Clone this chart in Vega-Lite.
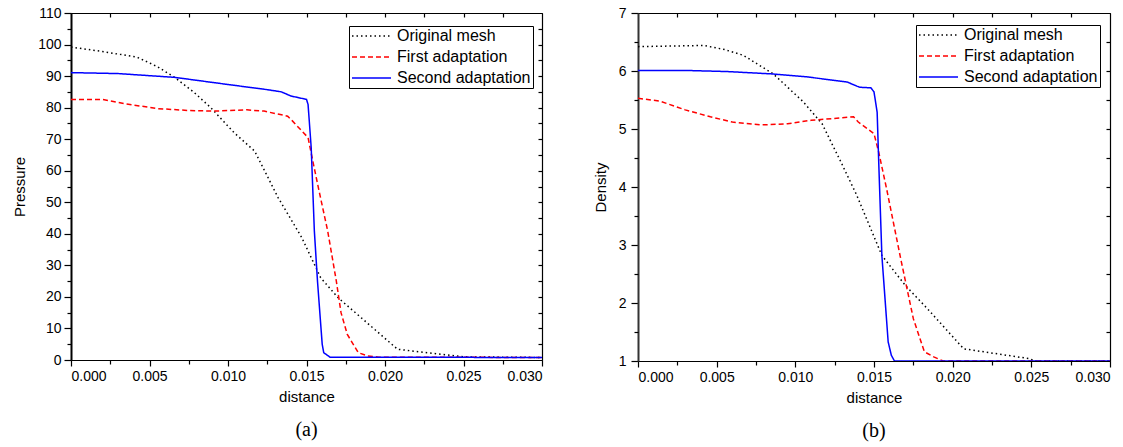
{
  "$schema": "https://vega.github.io/schema/vega-lite/v6.json",
  "padding": {"left": 12, "top": 5, "right": 5, "bottom": 5},
  "spacing": 46,
  "datasets": {
    "pressure": [
      {"series": "Original mesh", "distance": 0, "value": 99.2},
      {"series": "Original mesh", "distance": 0.002, "value": 97.8},
      {"series": "Original mesh", "distance": 0.0042, "value": 96},
      {"series": "Original mesh", "distance": 0.0055, "value": 93},
      {"series": "Original mesh", "distance": 0.0066, "value": 89.6},
      {"series": "Original mesh", "distance": 0.0078, "value": 85},
      {"series": "Original mesh", "distance": 0.0089, "value": 80},
      {"series": "Original mesh", "distance": 0.0104, "value": 72},
      {"series": "Original mesh", "distance": 0.0117, "value": 66.2},
      {"series": "Original mesh", "distance": 0.0132, "value": 51.4},
      {"series": "Original mesh", "distance": 0.0147, "value": 38.8},
      {"series": "Original mesh", "distance": 0.0159, "value": 26.1},
      {"series": "Original mesh", "distance": 0.017, "value": 19.8},
      {"series": "Original mesh", "distance": 0.0208, "value": 3.4},
      {"series": "Original mesh", "distance": 0.025, "value": 1.0},
      {"series": "Original mesh", "distance": 0.03, "value": 0.8},
      {"series": "First adaptation", "distance": 0, "value": 82.6},
      {"series": "First adaptation", "distance": 0.002, "value": 82.6},
      {"series": "First adaptation", "distance": 0.0035, "value": 81.2},
      {"series": "First adaptation", "distance": 0.0055, "value": 79.7},
      {"series": "First adaptation", "distance": 0.0075, "value": 79.1},
      {"series": "First adaptation", "distance": 0.0091, "value": 78.9},
      {"series": "First adaptation", "distance": 0.0112, "value": 79.3},
      {"series": "First adaptation", "distance": 0.0123, "value": 78.9},
      {"series": "First adaptation", "distance": 0.0138, "value": 77.3},
      {"series": "First adaptation", "distance": 0.0141, "value": 75.8},
      {"series": "First adaptation", "distance": 0.0151, "value": 70.5},
      {"series": "First adaptation", "distance": 0.0154, "value": 63.1},
      {"series": "First adaptation", "distance": 0.0158, "value": 53.6},
      {"series": "First adaptation", "distance": 0.01635, "value": 40.9},
      {"series": "First adaptation", "distance": 0.0169, "value": 25},
      {"series": "First adaptation", "distance": 0.0172, "value": 15},
      {"series": "First adaptation", "distance": 0.0176, "value": 8.1},
      {"series": "First adaptation", "distance": 0.0183, "value": 2.3},
      {"series": "First adaptation", "distance": 0.0189, "value": 1.3},
      {"series": "First adaptation", "distance": 0.0196, "value": 0.9},
      {"series": "First adaptation", "distance": 0.03, "value": 0.8},
      {"series": "Second adaptation", "distance": 0, "value": 91.1},
      {"series": "Second adaptation", "distance": 0.003, "value": 90.8},
      {"series": "Second adaptation", "distance": 0.0066, "value": 89.6},
      {"series": "Second adaptation", "distance": 0.0102, "value": 87.2},
      {"series": "Second adaptation", "distance": 0.0125, "value": 85.7},
      {"series": "Second adaptation", "distance": 0.0134, "value": 85.0},
      {"series": "Second adaptation", "distance": 0.014, "value": 83.7},
      {"series": "Second adaptation", "distance": 0.015, "value": 82.6},
      {"series": "Second adaptation", "distance": 0.0151, "value": 81},
      {"series": "Second adaptation", "distance": 0.0153, "value": 67.3},
      {"series": "Second adaptation", "distance": 0.0155, "value": 40.9},
      {"series": "Second adaptation", "distance": 0.0157, "value": 25},
      {"series": "Second adaptation", "distance": 0.016, "value": 5},
      {"series": "Second adaptation", "distance": 0.0161, "value": 2.3},
      {"series": "Second adaptation", "distance": 0.0165, "value": 0.9},
      {"series": "Second adaptation", "distance": 0.03, "value": 0.8}
    ],
    "density": [
      {"series": "Original mesh", "distance": 0, "value": 6.42},
      {"series": "Original mesh", "distance": 0.002, "value": 6.43},
      {"series": "Original mesh", "distance": 0.0042, "value": 6.44},
      {"series": "Original mesh", "distance": 0.0055, "value": 6.37},
      {"series": "Original mesh", "distance": 0.0067, "value": 6.27},
      {"series": "Original mesh", "distance": 0.0086, "value": 5.95},
      {"series": "Original mesh", "distance": 0.0105, "value": 5.47},
      {"series": "Original mesh", "distance": 0.0117, "value": 5.09},
      {"series": "Original mesh", "distance": 0.0129, "value": 4.43},
      {"series": "Original mesh", "distance": 0.0139, "value": 3.86},
      {"series": "Original mesh", "distance": 0.0155, "value": 2.82},
      {"series": "Original mesh", "distance": 0.017, "value": 2.3},
      {"series": "Original mesh", "distance": 0.0184, "value": 1.9},
      {"series": "Original mesh", "distance": 0.0207, "value": 1.21},
      {"series": "Original mesh", "distance": 0.0249, "value": 1.04},
      {"series": "Original mesh", "distance": 0.0252, "value": 1.0},
      {"series": "Original mesh", "distance": 0.03, "value": 1.0},
      {"series": "First adaptation", "distance": 0, "value": 5.53},
      {"series": "First adaptation", "distance": 0.0014, "value": 5.48},
      {"series": "First adaptation", "distance": 0.003, "value": 5.33},
      {"series": "First adaptation", "distance": 0.0046, "value": 5.21},
      {"series": "First adaptation", "distance": 0.006, "value": 5.12},
      {"series": "First adaptation", "distance": 0.0078, "value": 5.07},
      {"series": "First adaptation", "distance": 0.0095, "value": 5.09},
      {"series": "First adaptation", "distance": 0.011, "value": 5.15},
      {"series": "First adaptation", "distance": 0.0137, "value": 5.21},
      {"series": "First adaptation", "distance": 0.014, "value": 5.12},
      {"series": "First adaptation", "distance": 0.015, "value": 4.92},
      {"series": "First adaptation", "distance": 0.0153, "value": 4.6},
      {"series": "First adaptation", "distance": 0.0158, "value": 3.97},
      {"series": "First adaptation", "distance": 0.0167, "value": 2.76},
      {"series": "First adaptation", "distance": 0.0175, "value": 1.73},
      {"series": "First adaptation", "distance": 0.0182, "value": 1.16},
      {"series": "First adaptation", "distance": 0.0188, "value": 1.07},
      {"series": "First adaptation", "distance": 0.0194, "value": 1.0},
      {"series": "First adaptation", "distance": 0.03, "value": 1.0},
      {"series": "Second adaptation", "distance": 0, "value": 6.01},
      {"series": "Second adaptation", "distance": 0.003, "value": 6.01},
      {"series": "Second adaptation", "distance": 0.0057, "value": 5.99},
      {"series": "Second adaptation", "distance": 0.0085, "value": 5.95},
      {"series": "Second adaptation", "distance": 0.0107, "value": 5.9},
      {"series": "Second adaptation", "distance": 0.0133, "value": 5.81},
      {"series": "Second adaptation", "distance": 0.0139, "value": 5.74},
      {"series": "Second adaptation", "distance": 0.0141, "value": 5.72},
      {"series": "Second adaptation", "distance": 0.0148, "value": 5.71},
      {"series": "Second adaptation", "distance": 0.015, "value": 5.64},
      {"series": "Second adaptation", "distance": 0.0152, "value": 5.29},
      {"series": "Second adaptation", "distance": 0.0153, "value": 4.43},
      {"series": "Second adaptation", "distance": 0.0155, "value": 2.82},
      {"series": "Second adaptation", "distance": 0.0159, "value": 1.33},
      {"series": "Second adaptation", "distance": 0.0161, "value": 1.1},
      {"series": "Second adaptation", "distance": 0.0163, "value": 1.0},
      {"series": "Second adaptation", "distance": 0.03, "value": 1.0}
    ]
  },
  "hconcat": [
    {
      "width": 471,
      "height": 347,
      "data": {"name": "pressure"},
      "title": {"text": "(a)", "orient": "bottom", "font": "Liberation Serif", "fontSize": 20, "fontWeight": "normal", "color": "black", "offset": 16},
      "layer": [
        {
          "mark": {"type": "line", "strokeWidth": 1.5, "clip": true},
          "encoding": {
            "x": {"field": "distance", "type": "quantitative", "scale": {"domain": [0, 0.03], "nice": false, "zero": false},
                  "axis": {"orient": "bottom", "values": [0, 0.005, 0.01, 0.015, 0.02, 0.025, 0.03], "format": ".3f", "title": "distance", "tickSize": 6, "labelPadding": 3, "titlePadding": 6}},
            "y": {"field": "value", "type": "quantitative", "scale": {"domain": [0, 110], "nice": false},
                  "axis": {"orient": "left", "values": [0, 10, 20, 30, 40, 50, 60, 70, 80, 90, 100, 110], "title": "Pressure", "tickSize": 7, "labelPadding": 3, "titlePadding": 10, "domainWidth": 2}},
            "color": {"field": "series", "type": "nominal", "scale": {"domain": ["Original mesh", "First adaptation", "Second adaptation"], "range": ["#000000", "#ff0000", "#0000ff"]},
                      "legend": {"orient": "none", "legendX": 278, "legendY": 13, "title": null}},
            "strokeDash": {"field": "series", "type": "nominal", "scale": {"domain": ["Original mesh", "First adaptation", "Second adaptation"], "range": [[1.5, 3], [5, 3], [1, 0]]},
                      "legend": {"orient": "none", "legendX": 278, "legendY": 13, "title": null}}
          }
        },
        {
          "mark": {"type": "point", "opacity": 0},
          "encoding": {
            "x": {"field": "distance", "type": "quantitative", "axis": {"orient": "bottom", "values": [0.0025, 0.0075, 0.0125, 0.0175, 0.0225, 0.0275], "labels": false, "domain": false, "title": null, "tickSize": 4}},
            "y": {"field": "value", "type": "quantitative", "axis": {"orient": "left", "values": [5, 15, 25, 35, 45, 55, 65, 75, 85, 95, 105], "labels": false, "domain": false, "title": null, "tickSize": 4}}
          }
        },
        {
          "mark": {"type": "point", "opacity": 0},
          "encoding": {
            "x": {"field": "distance", "type": "quantitative", "axis": {"orient": "top", "values": [0.0025, 0.005, 0.0075, 0.01, 0.0125, 0.015, 0.0175, 0.02, 0.0225, 0.025, 0.0275], "labels": false, "title": null, "tickSize": -4}},
            "y": {"field": "value", "type": "quantitative", "axis": {"orient": "right", "values": [5, 10, 15, 20, 25, 30, 35, 40, 45, 50, 55, 60, 65, 70, 75, 80, 85, 90, 95, 100, 105], "labels": false, "title": null, "tickSize": -4}}
          }
        }
      ],
      "resolve": {"axis": {"x": "independent", "y": "independent"}}
    },
    {
      "width": 472,
      "height": 348,
      "data": {"name": "density"},
      "title": {"text": "(b)", "orient": "bottom", "font": "Liberation Serif", "fontSize": 20, "fontWeight": "normal", "color": "black", "offset": 16},
      "layer": [
        {
          "mark": {"type": "line", "strokeWidth": 1.5, "clip": true},
          "encoding": {
            "x": {"field": "distance", "type": "quantitative", "scale": {"domain": [0, 0.03], "nice": false, "zero": false},
                  "axis": {"orient": "bottom", "values": [0, 0.005, 0.01, 0.015, 0.02, 0.025, 0.03], "format": ".3f", "title": "distance", "tickSize": 6, "labelPadding": 3, "titlePadding": 6}},
            "y": {"field": "value", "type": "quantitative", "scale": {"domain": [1, 7], "nice": false, "zero": false},
                  "axis": {"orient": "left", "values": [1, 2, 3, 4, 5, 6, 7], "title": "Density", "tickSize": 7, "labelPadding": 5, "titlePadding": 10, "domainWidth": 2, "domainColor": "#333333"}},
            "color": {"field": "series", "type": "nominal", "scale": {"domain": ["Original mesh", "First adaptation", "Second adaptation"], "range": ["#000000", "#ff0000", "#0000ff"]},
                      "legend": {"orient": "none", "legendX": 278, "legendY": 12, "title": null}},
            "strokeDash": {"field": "series", "type": "nominal", "scale": {"domain": ["Original mesh", "First adaptation", "Second adaptation"], "range": [[1.5, 3], [5, 3], [1, 0]]},
                      "legend": {"orient": "none", "legendX": 278, "legendY": 12, "title": null}}
          }
        },
        {
          "mark": {"type": "point", "opacity": 0},
          "encoding": {
            "x": {"field": "distance", "type": "quantitative", "axis": {"orient": "bottom", "values": [0.0025, 0.0075, 0.0125, 0.0175, 0.0225, 0.0275], "labels": false, "domain": false, "title": null, "tickSize": 4}},
            "y": {"field": "value", "type": "quantitative", "axis": {"orient": "left", "values": [1.5, 2.5, 3.5, 4.5, 5.5, 6.5], "labels": false, "domain": false, "title": null, "tickSize": 4}}
          }
        },
        {
          "mark": {"type": "point", "opacity": 0},
          "encoding": {
            "x": {"field": "distance", "type": "quantitative", "axis": {"orient": "top", "values": [0.0025, 0.005, 0.0075, 0.01, 0.0125, 0.015, 0.0175, 0.02, 0.0225, 0.025, 0.0275], "labels": false, "title": null, "tickSize": -4}},
            "y": {"field": "value", "type": "quantitative", "axis": {"orient": "right", "values": [1.5, 2, 2.5, 3, 3.5, 4, 4.5, 5, 5.5, 6, 6.5], "labels": false, "title": null, "tickSize": -4}}
          }
        }
      ],
      "resolve": {"axis": {"x": "independent", "y": "independent"}}
    }
  ],
  "resolve": {
    "scale": {"color": "independent", "strokeDash": "independent"},
    "legend": {"color": "independent", "strokeDash": "independent"}
  },
  "config": {
    "view": {"stroke": "black", "strokeWidth": 1},
    "axis": {
      "grid": false,
      "domainColor": "black",
      "domainWidth": 1.2,
      "tickColor": "black",
      "tickWidth": 1.2,
      "labelFont": "Liberation Sans",
      "labelFontSize": 14,
      "labelColor": "black",
      "titleFont": "Liberation Sans",
      "titleFontSize": 15,
      "titleFontWeight": "normal",
      "titleColor": "black"
    },
    "legend": {
      "symbolType": "stroke",
      "symbolSize": 1521,
      "symbolStrokeWidth": 1.5,
      "labelFont": "Liberation Sans",
      "labelFontSize": 16,
      "labelColor": "black",
      "labelOffset": 5,
      "strokeColor": "black",
      "fillColor": "white",
      "padding": 2,
      "rowPadding": 5,
      "clipHeight": 16
    }
  }
}
